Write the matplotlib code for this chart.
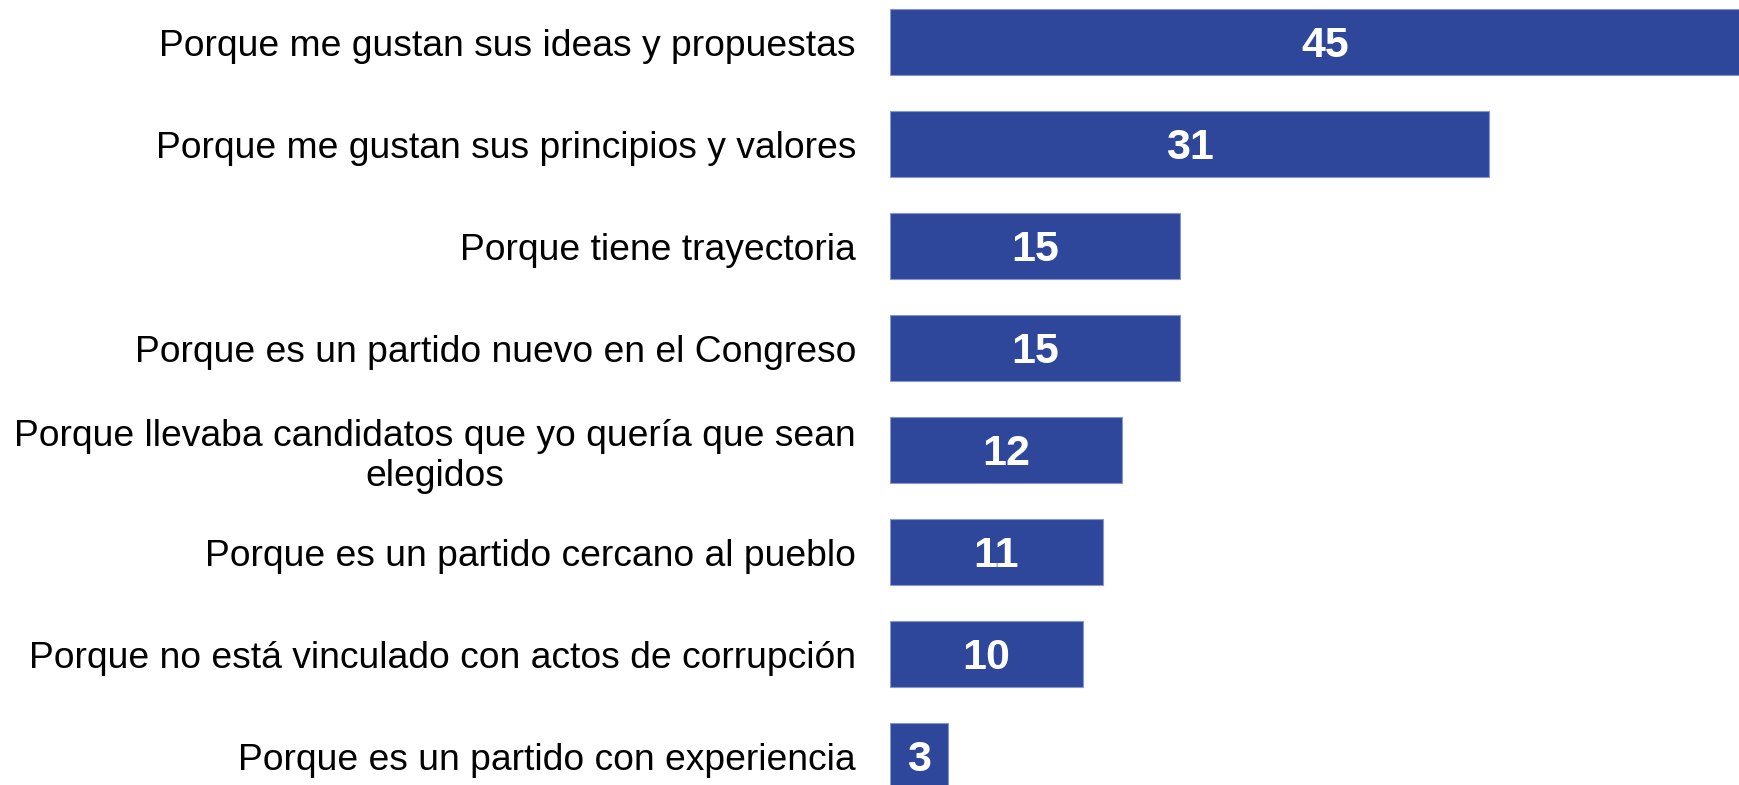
import matplotlib.pyplot as plt

categories = [
    "Porque me gustan sus ideas y propuestas",
    "Porque me gustan sus principios y valores",
    "Porque tiene trayectoria",
    "Porque es un partido nuevo en el Congreso",
    "Porque llevaba candidatos que yo quería que sean\nelegidos",
    "Porque es un partido cercano al pueblo",
    "Porque no está vinculado con actos de corrupción",
    "Porque es un partido con experiencia",
]
values = [45, 31, 15, 15, 12, 11, 10, 3]

bar_color = "#2E479A"

fig = plt.figure(figsize=(17.39, 7.85), dpi=100)
ax = fig.add_axes([890 / 1739, 0, 1 - 890 / 1739, 1])

y = list(range(len(values)))
ax.barh(y, values, height=0.647, color=bar_color, edgecolor="#8796CC", linewidth=0.8)

# axes span 849 px for ~19.3 px per unit, so the 45 bar is clipped at the edge
ax.set_xlim(0, 849 / 19.33)
ax.set_ylim((785 - 42) / 102, -42 / 102)

for yi, v in zip(y, values):
    ax.text(v / 2, yi + 0.04, str(v), ha="center", va="center", color="white",
            fontsize=31, fontweight="bold", family="Liberation Sans", clip_on=False)

ax.set_yticks(y)
ax.set_yticklabels(categories, fontsize=26.8, family="Liberation Sans",
                   ha="right", multialignment="center", linespacing=1.2)
ax.tick_params(axis="y", length=0, pad=24.5)
ax.set_xticks([])
for s in ax.spines.values():
    s.set_visible(False)

fig.savefig("out.png", dpi=100)
